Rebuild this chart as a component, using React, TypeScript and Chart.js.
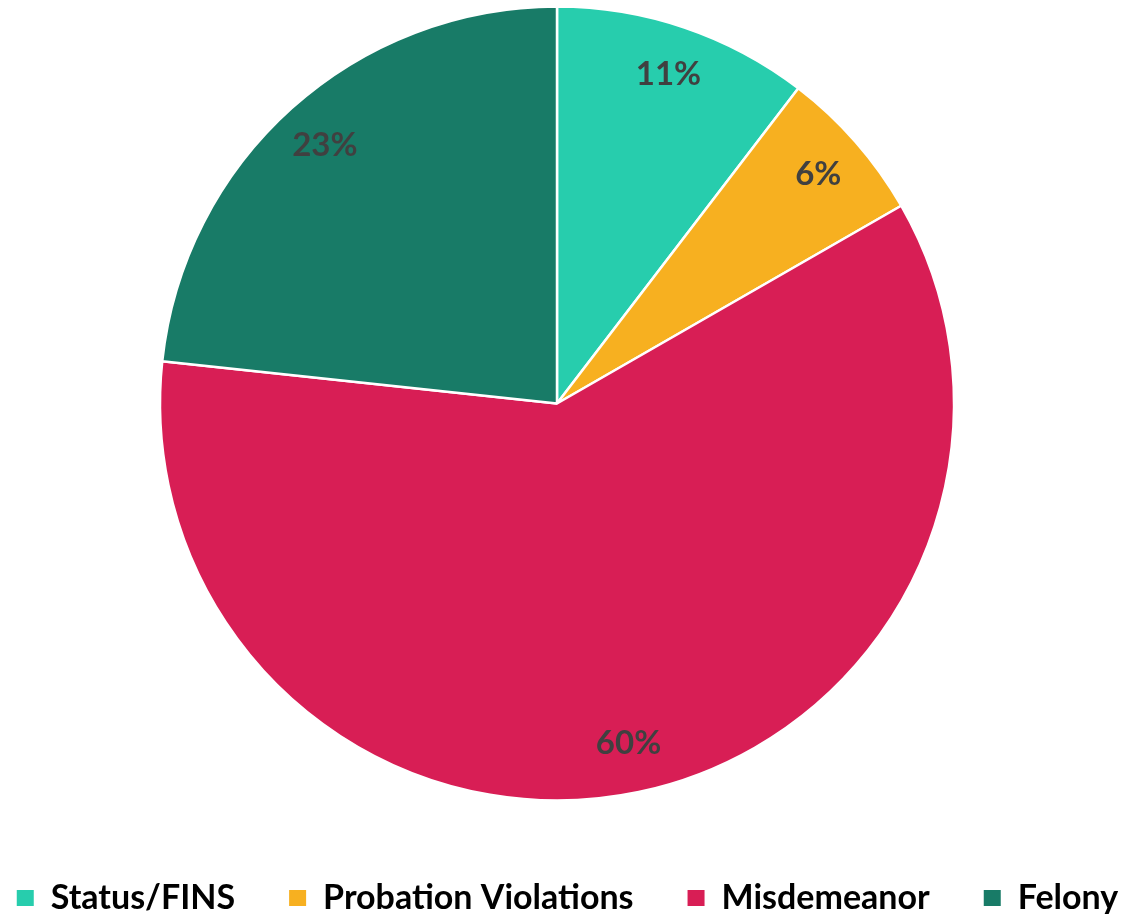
import React, { useEffect, useRef } from "react";
import { Chart, registerables } from "chart.js";

Chart.register(...registerables);

const categories = ["Status/FINS", "Probation Violations", "Misdemeanor", "Felony"];
const shares = [10.4, 6.3, 60.0, 23.3];
const percentLabels = ["11%", "6%", "60%", "23%"];
const colors = ["#27CDAD", "#F7B020", "#D81E55", "#187B67"];

const CANVAS_W = 1300;
const CANVAS_H = 914;
const CANVAS_SHIFT = 84;

const sliceLabelPlugin = {
  id: "sliceLabels",
  afterDatasetsDraw(chart: any) {
    const ctx = chart.ctx;
    const meta = chart.getDatasetMeta(0);
    ctx.save();
    ctx.font = "bold 33px Lato";
    ctx.fillStyle = "#404040";
    ctx.textAlign = "center";
    ctx.textBaseline = "middle";
    meta.data.forEach((arc: any, i: number) => {
      const p = arc.getProps(["x", "y", "startAngle", "endAngle", "outerRadius"], true);
      const mid = (p.startAngle + p.endAngle) / 2;
      const r = p.outerRadius * 0.875;
      ctx.fillText(percentLabels[i], p.x + Math.cos(mid) * r, p.y + Math.sin(mid) * r);
    });
    ctx.restore();
  },
};

const legendShiftPlugin = {
  id: "legendShift",
  afterLayout(chart: any) {
    const lg = chart.legend;
    if (!lg) return;
    const dx = 10.5;
    const dy = 20;
    lg.left += dx;
    lg.right += dx;
    lg.top += dy;
    lg.bottom += dy;
  },
};

export default function App() {
  const ref = useRef<HTMLCanvasElement | null>(null);

  useEffect(() => {
    document.body.style.margin = "0";
    if (!ref.current) return;
    const chart = new Chart(ref.current, {
      type: "pie",
      data: {
        labels: categories,
        datasets: [
          {
            data: shares,
            backgroundColor: colors,
            borderColor: "#ffffff",
            borderWidth: 2.5,
            radius: 397,
          },
        ],
      },
      options: {
        responsive: false,
        animation: false,
        layout: { padding: { left: 0, right: 18, top: 0, bottom: 9 } },
        plugins: {
          tooltip: { enabled: false },
          legend: {
            position: "bottom",
            maxHeight: 98,
            labels: {
              color: "#000000",
              font: { family: "Lato", size: 34, weight: "bold" },
              boxWidth: 17,
              boxHeight: 16,
              padding: 54,
              generateLabels: (chart: any) => {
                const base = (Chart as any).overrides.pie.plugins.legend.labels.generateLabels(chart);
                return base.map((l: any) => ({ ...l, lineWidth: 0, strokeStyle: l.fillStyle }));
              },
            },
          },
        },
      },
      plugins: [sliceLabelPlugin, legendShiftPlugin],
    });
    return () => chart.destroy();
  }, []);

  return (
    <div style={{ width: 1132, height: 914, overflow: "hidden", position: "relative" }}>
      <canvas
        ref={ref}
        width={CANVAS_W}
        height={CANVAS_H}
        style={{ position: "absolute", left: -CANVAS_SHIFT, top: 0 }}
      />
    </div>
  );
}
